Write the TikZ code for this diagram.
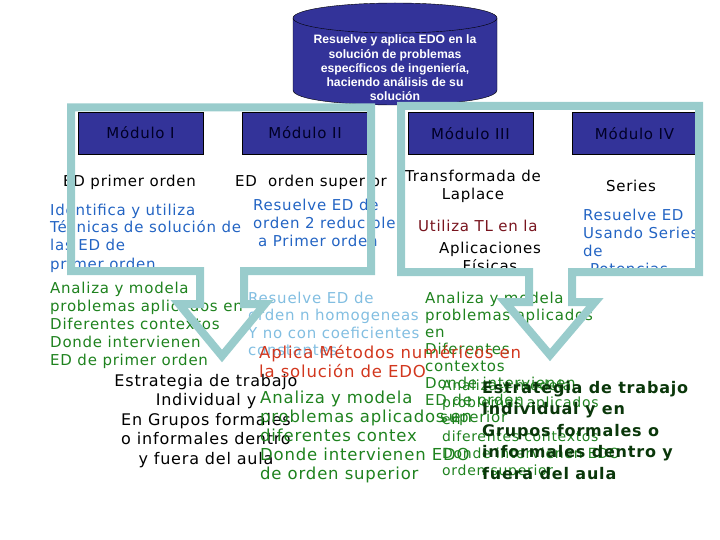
\documentclass[tikz,border=0pt]{standalone}
\usepackage{fontspec}
\setmainfont{DejaVu Sans}[LetterSpace=5]
\newfontfamily\cylfont{Liberation Sans}
\definecolor{framecol}{RGB}{153,204,204}
\definecolor{boxnavy}{RGB}{51,51,153}
\definecolor{txtblue}{RGB}{35,100,195}
\definecolor{txtsky}{RGB}{130,190,225}
\definecolor{txtgreen}{RGB}{30,130,30}
\definecolor{txtdkgreen}{RGB}{10,55,10}
\definecolor{txtred}{RGB}{210,55,30}
\definecolor{txtmaroon}{RGB}{120,20,30}

\begin{document}
\begin{tikzpicture}[x=1pt,y=-1pt,
  modbox/.style={draw=black, fill=boxnavy, minimum width=125pt, minimum height=42pt, inner sep=0pt, text=black!85!blue, font=\fontsize{15}{18}\selectfont},
  txt/.style={inner sep=0pt, anchor=base west, align=left, font=\fontsize{15}{18}\selectfont},
  ctxt/.style={txt, anchor=base, align=center},
  bigtxt/.style={txt, font=\fontsize{16.5}{19}\selectfont},
  frame/.style={draw=framecol, line width=8pt, miter limit=10}]
	\useasboundingbox (0,0) rectangle (720,540);
	\draw[fill=boxnavy] (293,18) -- (293,90) .. controls (293,110) and (497,110) .. (497,90) -- (497,18) -- cycle;
	\draw[fill=boxnavy] (395,18) ellipse [x radius=102, y radius=15];
	\node (meta) at (395,68) [text=white, align=center, font=\cylfont\bfseries\fontsize{12.2}{14.3}\selectfont] {Resuelve y aplica EDO en la\\solución de problemas\\específicos de ingeniería,\\haciendo análisis de su\\solución};
	\node[modbox] (mod1) at (140.5,133) {Módulo I};
	\node[modbox] (mod2) at (305,133) {Módulo II};
	\node[modbox] (mod3) at (470.5,133.5) {Módulo III};
	\node[modbox] (mod4) at (634.5,133.5) {Módulo IV};
	\node[txt] (tema1) at (63,187) {ED primer orden};
	\node[txt] (tema2) at (235,187) {ED\ \ orden superior};
	\node[ctxt] (tema3) at (473,200) {Transformada de\\Laplace};
	\node[ctxt] (tema4) at (631,192) {Series};
	\node[txt, text=txtblue] (logro1) at (50,269) {Identifica y utiliza\\Técnicas de solución de\\las ED de\\primer orden};
	\node[txt, text=txtblue] (logro2) at (253,247) {Resuelve ED de\\orden 2 reducibles\\\hspace*{5pt}a Primer orden};
	\node[txt, text=txtmaroon] (logro3) at (418,232) {Utiliza TL en la};
	\node[ctxt] (logro3b) at (490,271) {Aplicaciones\\Físicas};
	\node[txt, text=txtblue] (logro4) at (583,274) {Resuelve ED\\Usando Series\\de\\\hspace*{7pt}Potencias};
	\node[txt, text=txtgreen] (analiza1) at (50,365) {Analiza y modela\\problemas aplicados en\\Diferentes contextos\\Donde intervienen\\ED de primer orden};
	\node[txt, text=txtsky, font=\fontsize{15}{17.5}\selectfont] (logro2b) at (248,355.5) {Resuelve ED de\\orden n homogeneas\\Y no con coeficientes\\constantes};
	\node[txt, text=txtgreen, font=\fontsize{15}{17}\selectfont] (analiza3) at (425,422) {Analiza y modela\\problemas aplicados\\en\\Diferentes\\contextos\\Donde intervienen\\ED de orden\\\hspace*{15pt}superior};
	\node[bigtxt, text=txtred] (numericos) at (259,377) {Aplica Métodos numéricos en\\la solución de EDO};
	\node[ctxt, font=\fontsize{16}{19.5}\selectfont] (estrategia1) at (206,464) {Estrategia de trabajo\\Individual y\\En Grupos formales\\o informales dentro\\y fuera del aula};
	\node[bigtxt, text=txtgreen] (analiza2) at (260,479) {Analiza y modela\\problemas aplicados en\\diferentes contex\\Donde intervienen EDO\\de orden superior};
	\node[txt, text=txtgreen, font=\fontsize{14}{17}\selectfont] (analiza4) at (442,475) {Analiza y modela\\problemas aplicados\\en\\diferentes contextos\\Donde intervienen EDO\\orden superior};
	\node[txt, text=txtdkgreen, font=\bfseries\fontsize{16}{21.5}\selectfont] (estrategia2) at (482,479) {Estrategia de trabajo\\Individual y en\\Grupos formales o\\informales dentro y\\fuera del aula};
	\draw[frame] (71,271) -- (71,107.5) -- (371,107.5) -- (371,271) -- (244,271) -- (244,304) -- (265,304) -- (222,356) -- (179,304) -- (200,304) -- (200,271) -- cycle;
	\draw[frame] (401,272) -- (401,106) -- (699,106) -- (699,272) -- (572,272) -- (572,302) -- (595,302) -- (550,355) -- (505,302) -- (529,302) -- (529,272) -- cycle;
\end{tikzpicture}
\end{document}
